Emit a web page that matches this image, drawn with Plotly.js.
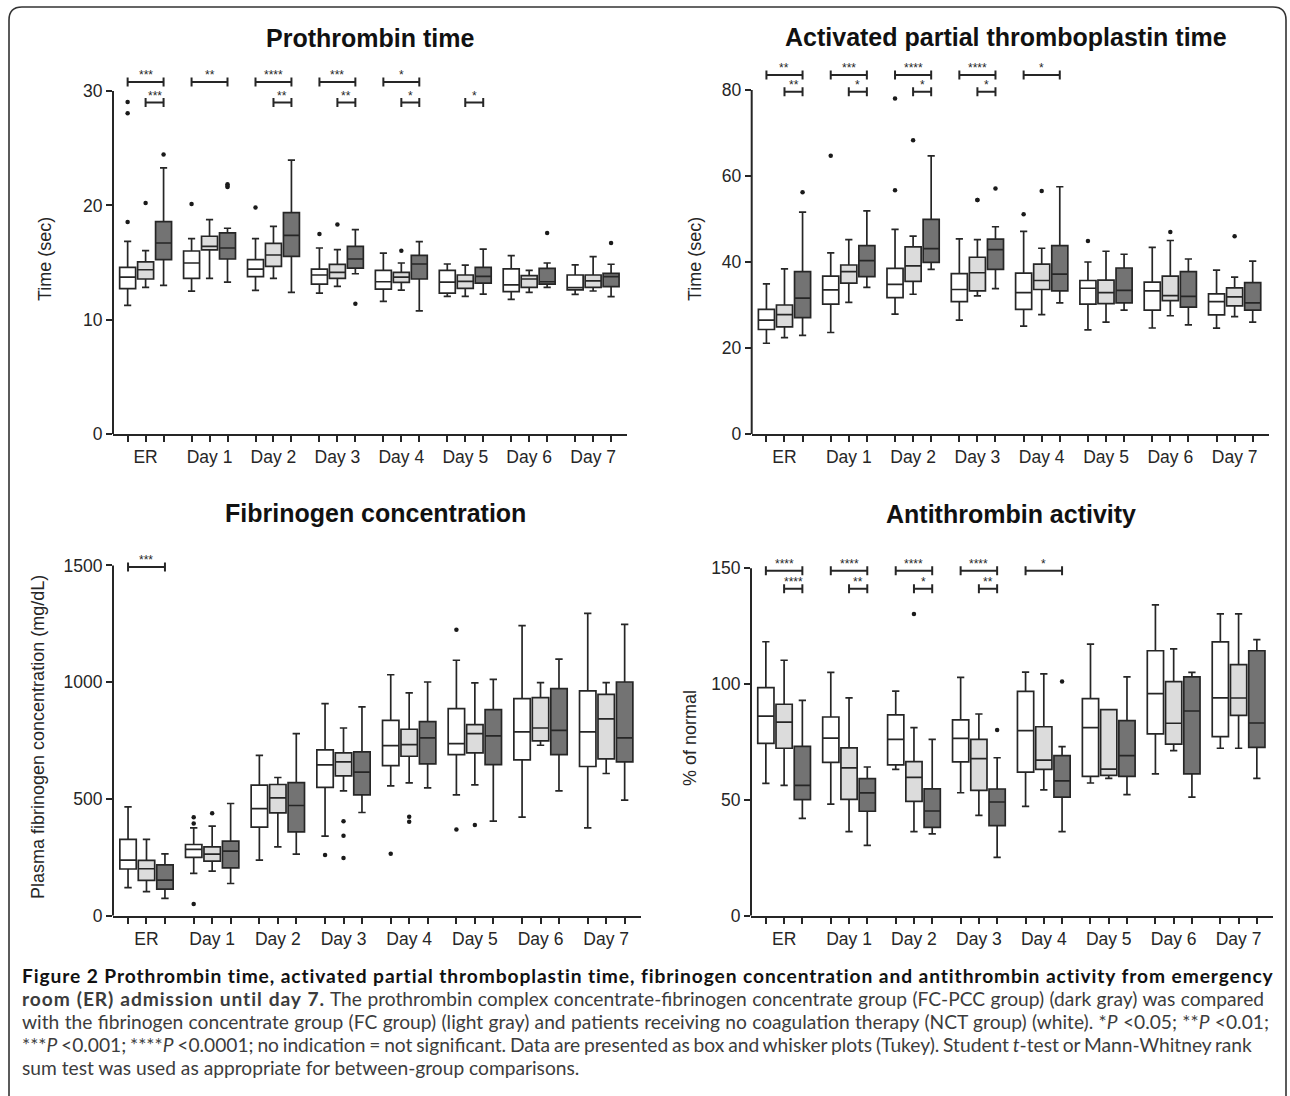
<!DOCTYPE html>
<html><head><meta charset="utf-8">
<script src="https://cdn.plot.ly/plotly-3.0.1.min.js"></script>
<style>html,body{margin:0;padding:0;background:#fff}#chart{width:1290px;height:1096px}</style>
</head><body><div id="chart"></div>
<script>
// ---------------- DATA ----------------
const groups = ['ER','Day 1','Day 2','Day 3','Day 4','Day 5','Day 6','Day 7'];
const seriesNames = ['NCT group','FC group','FC-PCC group'];

// Prothrombin time (sec): rows = NCT (white), FC (light gray), FC-PCC (dark gray)
const ptLow  = [[11.25,12.5,12.56,12.33,11.6,12.04,11.78,12.22],[12.83,13.61,13.61,12.91,12.59,12.04,12.39,12.51],[13.0,13.29,12.39,14.02,10.78,12.24,12.83,12.01]];
const ptQ1   = [[12.71,13.61,13.76,13.12,12.68,12.33,12.45,12.6],[13.56,16.1,14.67,13.61,13.26,12.74,12.83,12.83],[15.25,15.31,15.54,14.52,13.56,13.2,13.12,12.89]];
const ptMed  = [[13.73,14.96,14.43,13.91,13.32,13.29,13.04,12.8],[14.37,16.42,15.66,14.14,13.73,13.35,13.56,13.39],[16.71,16.27,17.38,15.31,14.87,13.79,13.32,13.76]];
const ptQ3   = [[14.58,16.01,15.25,14.43,14.31,14.31,14.44,13.91],[15.05,17.3,16.68,14.84,14.14,13.91,13.85,13.91],[18.58,17.59,19.37,16.42,15.63,14.58,14.49,14.06]];
const ptHigh = [[16.86,17.09,17.09,16.27,15.83,14.87,15.6,14.79],[16.04,18.76,18.17,16.13,14.96,14.78,14.31,15.51],[23.28,18.0,23.96,17.88,16.83,16.18,14.96,14.85]];
const ptOutGroup  = [0,0,0,1,2,3, 0,3,4, 0,1,1,1,3,6,7];
const ptOutSeries = [0,0,0,0,0,0, 1,1,1, 2,2,2,2,2,2,2];
const ptOutValue  = [29.04,28.05,18.55,20.13,19.81,17.5, 20.2,18.32,16.04, 24.45,21.85,21.6,21.7,11.39,17.59,16.7];
const ptBrGroup = [0,1,2,3,4, 0,2,3,4,5];
const ptBrFrom  = [0,0,0,0,0, 1,1,1,1,1];
const ptBrTo    = [2,2,2,2,2, 2,2,2,2,2];
const ptBrRow   = [0,0,0,0,0, 1,1,1,1,1];
const ptBrLabel = ['***','**','****','***','*', '***','**','**','*','*'];

// Activated partial thromboplastin time (sec)
const apLow  = [[21.1,23.6,27.9,26.5,25.1,24.2,24.65,24.6],[22.4,30.6,32.5,32.1,27.75,26.0,27.5,27.3],[22.95,34.1,38.3,33.8,30.5,28.8,25.4,26.0]];
const apQ1   = [[24.3,30.2,31.7,30.8,29.0,30.2,28.8,27.7],[24.9,35.1,35.5,33.3,33.6,30.3,31.0,29.8],[27.05,36.6,39.9,38.3,33.3,30.5,29.5,28.8]];
const apMed  = [[26.5,33.5,34.8,33.6,32.9,33.9,33.3,30.8],[27.75,37.75,39.1,37.5,35.7,32.9,32.2,31.9],[31.6,40.3,43.1,42.9,37.2,33.4,32.0,30.5]];
const apQ3   = [[28.99,36.7,38.5,37.3,37.4,35.7,35.3,32.6],[30.0,39.3,43.5,41.1,39.5,35.8,36.7,34.0],[37.75,43.8,49.9,45.3,43.8,38.6,37.75,35.2]];
const apHigh = [[34.9,42.1,47.6,45.4,47.1,40.0,43.4,38.1],[38.4,45.2,46.0,45.2,43.2,42.5,45.0,36.5],[51.6,51.9,64.7,48.2,57.5,41.8,40.7,40.2]];
const apOutGroup  = [1,2,2,4,5, 2,3,3,4,6,7, 0,3];
const apOutSeries = [0,0,0,0,0, 1,1,1,1,1,1, 2,2];
const apOutValue  = [64.7,56.7,78.0,51.1,44.9, 68.3,54.4,54.4,56.5,47.0,46.0, 56.2,57.1];
const apBrGroup = [0,1,2,3,4, 0,1,2,3];
const apBrFrom  = [0,0,0,0,0, 1,1,1,1];
const apBrTo    = [2,2,2,2,2, 2,2,2,2];
const apBrRow   = [0,0,0,0,0, 1,1,1,1];
const apBrLabel = ['**','***','****','****','*', '**','*','*','*'];

// Plasma fibrinogen concentration (mg/dL)
const fbLow  = [[120,181,238,341,556,517.6,422,376],[103,191,295,535,569,560,730,609],[74,138,264,442,547.6,405,535,495]];
const fbQ1   = [[200,250,379,550,643,690,667,639],[151,234,440.6,599,683,697,748.6,671.6],[114,205,359,517.6,650,647,690,659]];
const fbMed  = [[238,284,459,646,728.6,737,787,787],[201,264,505,659,733,780,804,843],[152.6,276.6,472,614.6,761.5,770,794,761.5]];
const fbQ3   = [[326.5,305,559,710,837,887,930,962.5],[237,295,562,697,798.5,818.5,934,948],[218,319,570,701.6,831,882.6,972.5,1001]];
const fbHigh = [[466,376,687,908,1032,1094,1242,1295],[326.5,383.6,592,804,954,997,998,998],[265,480.5,780,894,1001,1012,1099,1248]];
const fbOutGroup  = [1,1,1,3,4,5,5, 1,3,3,3,4,4,5];
const fbOutSeries = [0,0,0,0,0,0,0, 1,1,1,1,1,1,1];
const fbOutValue  = [422,395,50,259.5,265,1225,369, 439,405,342,247,423.5,402,388];
const fbBrGroup = [0];
const fbBrFrom  = [0];
const fbBrTo    = [2];
const fbBrRow   = [0];
const fbBrLabel = ['***'];

// Antithrombin activity (% of normal)
const atLow  = [[57.1,48.2,63.2,53.1,47.2,57.3,61.2,72.3],[56.3,36.3,36.3,43.3,54.3,59.3,71.3,72.3],[42.0,30.4,35.3,25.2,36.3,52.3,51.2,59.3]];
const atQ1   = [[74.4,66.2,65.1,66.4,62.0,60.2,78.5,77.3],[72.3,50.2,49.4,54.1,63.2,60.6,74.1,86.5],[50.1,45.1,38.1,38.9,51.2,60.2,61.2,72.7]];
const atMed  = [[86.2,76.7,76.1,76.6,79.9,81.2,95.9,94.1],[83.6,63.8,59.7,67.8,67.2,63.3,83.1,94.0],[56.3,53.0,45.2,49.1,58.2,69.1,88.4,83.2]];
const atQ3   = [[98.5,85.8,86.7,84.6,96.9,93.7,114.4,118.2],[91.3,72.5,66.5,76.1,81.6,89.0,101.1,108.4],[73.1,59.2,54.8,54.7,69.1,84.2,103.1,114.4]];
const atHigh = [[118.3,105.1,97.0,102.9,105.2,117.3,134.2,130.3],[110.3,94.1,81.2,87.1,104.4,89.0,115.2,130.3],[93.0,64.2,76.1,68.2,73.0,103.1,105.1,119.2]];
const atOutGroup  = [2, 3,4];
const atOutSeries = [1, 2,2];
const atOutValue  = [130.3, 80.2,101.1];
const atBrGroup = [0,1,2,3,4, 0,1,2,3];
const atBrFrom  = [0,0,0,0,0, 1,1,1,1];
const atBrTo    = [2,2,2,2,2, 2,2,2,2];
const atBrRow   = [0,0,0,0,0, 1,1,1,1];
const atBrLabel = ['****','****','****','****','*', '****','**','*','**'];

// ---------------- LAYOUT / STYLE ----------------
const W = 1290, H = 1096;
const OFF = 0.281;          // spacing between boxes within a group (x units)
const BOXW = 0.25;
const XR = [-0.51, 7.53];
const fills = ['#ffffff', '#dcdcdc', '#737373'];
const ink = '#262626';
const FONT = 'Arial, Liberation Sans, Helvetica, sans-serif';

const panels = [
  {id:'',  title:'Prothrombin time', tXY:[370,38], ytitle:'Time (sec)', ytXY:[45,259], px:[113,627,434,62.5], ymax:32.5, top:30, tv:[0,10,20,30], lv:[30.8,29.0],
   low:ptLow,q1:ptQ1,med:ptMed,q3:ptQ3,high:ptHigh,og:ptOutGroup,os:ptOutSeries,ov:ptOutValue,bg:ptBrGroup,bf:ptBrFrom,bt:ptBrTo,br:ptBrRow,bl:ptBrLabel},
  {id:'2', title:'Activated partial thromboplastin time', tXY:[1006,37], ytitle:'Time (sec)', ytXY:[695,259], px:[751.7,1268.7,434,64.2], ymax:86, top:80, tv:[0,20,40,60,80], lv:[83.5,79.6],
   low:apLow,q1:apQ1,med:apMed,q3:apQ3,high:apHigh,og:apOutGroup,os:apOutSeries,ov:apOutValue,bg:apBrGroup,bf:apBrFrom,bt:apBrTo,br:apBrRow,bl:apBrLabel},
  {id:'3', title:'Fibrinogen concentration', tXY:[375,513], ytitle:'Plasma fibrinogen concentration (mg/dL)', ytXY:[38,737], px:[113,641,915.7,546.8], ymax:1580, top:1500, tv:[0,500,1000,1500], lv:[1493],
   low:fbLow,q1:fbQ1,med:fbMed,q3:fbQ3,high:fbHigh,og:fbOutGroup,os:fbOutSeries,ov:fbOutValue,bg:fbBrGroup,bf:fbBrFrom,bt:fbBrTo,br:fbBrRow,bl:fbBrLabel},
  {id:'4', title:'Antithrombin activity', tXY:[1011,514], ytitle:'% of normal', ytXY:[690,738], px:[751,1273,915.7,549.8], ymax:158, top:150, tv:[0,50,100,150], lv:[149,141.2],
   low:atLow,q1:atQ1,med:atMed,q3:atQ3,high:atHigh,og:atOutGroup,os:atOutSeries,ov:atOutValue,bg:atBrGroup,bf:atBrFrom,bt:atBrTo,br:atBrRow,bl:atBrLabel}
];

const pos = (g, k) => g + (k - 1) * OFF;
const tickvals = [], ticktext = [];
groups.forEach((g, i) => { for (let k = 0; k < 3; k++) { tickvals.push(pos(i, k)); ticktext.push(k === 1 ? g : ''); } });

const traces = [], shapes = [], annotations = [];
const layout = {width: W, height: H, margin: {l:0, r:0, t:0, b:0}, paper_bgcolor:'#fff', plot_bgcolor:'rgba(0,0,0,0)',
  showlegend:false, boxmode:'overlay', font:{family:FONT, color:ink}};

panels.forEach(p => {
  const xa = 'x' + p.id, ya = 'y' + p.id;
  const [l, r, b, t] = p.px;
  layout['xaxis' + p.id] = {domain:[l/W, r/W], range:XR, anchor:ya, tickvals, ticktext, ticks:'outside', ticklen:6, tickwidth:2, tickcolor:ink,
    showline:true, linewidth:2, linecolor:ink, showgrid:false, zeroline:false, tickfont:{family:FONT, size:17.5, color:ink}, fixedrange:true};
  layout['yaxis' + p.id] = {domain:[1-b/H, 1-t/H], range:[0, p.ymax], anchor:xa, tickvals:p.tv, ticks:'outside', ticklen:6, tickwidth:2, tickcolor:ink,
    showline:false, showgrid:false, zeroline:false, tickfont:{family:FONT, size:17.5, color:ink}, fixedrange:true};
  // y axis line up to the last tick
  shapes.push({type:'line', xref:xa + ' domain', yref:ya, x0:0, x1:0, y0:0, y1:p.top, line:{color:ink, width:2}});

  for (let k = 0; k < 3; k++) {
    traces.push({type:'box', xaxis:xa, yaxis:ya, name:seriesNames[k],
      x: groups.map((g, i) => pos(i, k)),
      q1:p.q1[k], median:p.med[k], q3:p.q3[k], lowerfence:p.low[k], upperfence:p.high[k],
      width:BOXW, whiskerwidth:0.45, boxpoints:false, fillcolor:fills[k], line:{color:ink, width:1.7}, hoverinfo:'y'});
  }
  traces.push({type:'scatter', mode:'markers', xaxis:xa, yaxis:ya, cliponaxis:false,
    x: p.og.map((g, i) => pos(g, p.os[i])), y: p.ov,
    marker:{size:4.5, color:'#1a1a1a'}, hoverinfo:'y'});

  p.bg.forEach((g, i) => {
    const x0 = pos(g, p.bf[i]), x1 = pos(g, p.bt[i]), lv = p.lv[p.br[i]];
    shapes.push({type:'line', xref:xa, yref:ya, x0, x1, y0:lv, y1:lv, line:{color:ink, width:2}});
    [x0, x1].forEach(xx => shapes.push({type:'line', xref:xa, yref:ya, ysizemode:'pixel', yanchor:lv, x0:xx, x1:xx, y0:-4.5, y1:4.5, line:{color:ink, width:2}}));
    annotations.push({xref:xa, yref:ya, x:(x0 + x1)/2, y:lv, text:p.bl[i], showarrow:false, yanchor:'middle', yshift:7,
      font:{family:FONT, size:12, color:ink}});
  });

  annotations.push({xref:'paper', yref:'paper', x:p.tXY[0]/W, y:1 - p.tXY[1]/H, text:p.title, showarrow:false, xanchor:'center', yanchor:'middle',
    font:{family:FONT, size:25, color:'#111', weight:700}});
  annotations.push({xref:'paper', yref:'paper', x:p.ytXY[0]/W, y:1 - p.ytXY[1]/H, text:p.ytitle, showarrow:false, textangle:-90, xanchor:'center', yanchor:'middle',
    font:{family:FONT, size:18, color:ink}});
});

// frame (rounded, open at the bottom where the page is cut)
const fx = v => (v / W).toFixed(5), fy = v => (1 - v / H).toFixed(5);
shapes.push({type:'path', xref:'paper', yref:'paper', layer:'above',
  path:`M${fx(9)},${fy(1100)} L${fx(9)},${fy(20)} Q${fx(9)},${fy(7)} ${fx(22)},${fy(7)} L${fx(1273)},${fy(7)} Q${fx(1286)},${fy(7)} ${fx(1286)},${fy(20)} L${fx(1286)},${fy(1100)}`,
  line:{color:'#333', width:1.6}});

// caption
const captionLines = [
  '<b>Figure 2 Prothrombin time, activated partial thromboplastin time, fibrinogen concentration and antithrombin activity from emergency</b>',
  '<b>room (ER) admission until day 7.</b> The prothrombin complex concentrate-fibrinogen concentrate group (FC-PCC group) (dark gray) was compared',
  'with the fibrinogen concentrate group (FC group) (light gray) and patients receiving no coagulation therapy (NCT group) (white). *<i>P</i> &lt;0.05; **<i>P</i> &lt;0.01;',
  '***<i>P</i> &lt;0.001; ****<i>P</i> &lt;0.0001; no indication = not significant. Data are presented as box and whisker plots (Tukey). Student <i>t</i>-test or Mann-Whitney rank',
  'sum test was used as appropriate for between-group comparisons.'
];
const capY = [975, 998, 1021, 1044, 1067];
const capEnd = [1275, 1262, 1267, 1250, null];   // right edge of each justified line (px)
const CAPX = 20;
const capStart = annotations.length;
captionLines.forEach((txt, i) => annotations.push({xref:'paper', yref:'paper', x:CAPX/W, y:1 - capY[i]/H, text:txt, showarrow:false,
  xanchor:'left', yanchor:'middle', align:'left', font:{family:'Lato, Open Sans, sans-serif', size:19.2, color: i === 0 ? '#111' : '#3c3c3c'}}));

layout.shapes = shapes;
layout.annotations = annotations;
Plotly.newPlot('chart', traces, layout, {staticPlot:true, displayModeBar:false}).then(gd => {
  const justify = () => {
    let boldLS = 0;
    captionLines.forEach((txt, i) => {
      const el = gd.querySelector(`.annotation[data-index="${capStart + i}"] text.annotation-text`);
      if (!el) return;
      if (i === 0) {
        // the bold caption face is wider than the local bold face: widen it with letter spacing
        el.style.letterSpacing = '0px';
        const w = el.getBBox().width;
        boldLS = Math.max(0, Math.min(1.6, (capEnd[0] - CAPX - w) / el.textContent.length));
        el.style.letterSpacing = boldLS.toFixed(3) + 'px';
        return;
      }
      el.querySelectorAll('tspan').forEach(ts => {
        if ((ts.getAttribute('style') || '').indexOf('bold') >= 0) ts.style.letterSpacing = boldLS.toFixed(3) + 'px';
      });
      if (!capEnd[i]) return;
      el.style.wordSpacing = '0px';
      const w = el.getBBox().width;
      const spaces = (el.textContent.match(/ /g) || []).length;
      if (spaces) el.style.wordSpacing = ((capEnd[i] - CAPX - w) / spaces).toFixed(2) + 'px';
    });
  };
  (document.fonts && document.fonts.ready ? document.fonts.ready : Promise.resolve()).then(justify);
});
</script></body></html>
